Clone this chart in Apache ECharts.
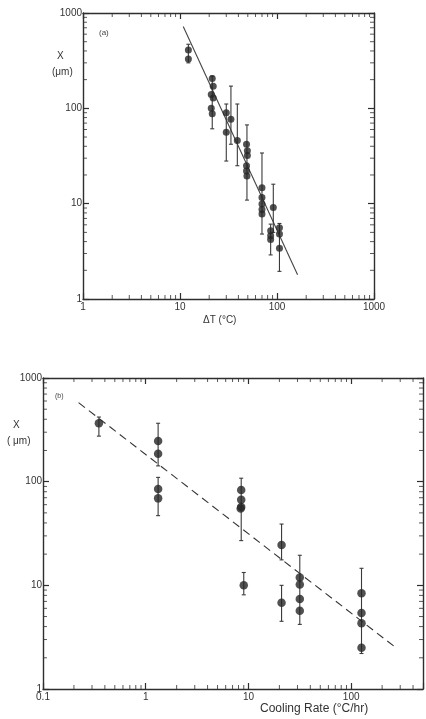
<!DOCTYPE html>
<html><head><meta charset="utf-8">
<script src="https://cdn.jsdelivr.net/npm/echarts@6/dist/echarts.min.js"></script>
<style>html,body{margin:0;padding:0;background:#fff}#c{width:426px;height:719px}</style>
</head><body><div id="c"></div>
<script>
// ---------- Panel (a): X (µm) vs ΔT (°C) ----------
const aDeltaT = [12.2, 12.2, 21.5, 22, 21, 22, 21, 21.5, 30, 30, 33.5, 39, 48.5, 49.5, 49.5, 48.5, 48.5, 49, 70, 70, 70, 70, 70, 91.6, 86, 86, 86, 106, 106, 106];
const aX      = [410, 330, 205, 170, 140, 128, 100, 88, 90, 56, 77, 46, 42, 36, 32, 25, 22, 19.5, 14.7, 11.6, 9.9, 8.7, 7.8, 9.1, 5.2, 4.6, 4.2, 5.6, 4.8, 3.4];
const aErrT   = [12.2, 21.5, 30, 33.5, 39, 49, 70, 91.6, 86, 106];
const aErrLo  = [300, 61, 28, 42, 25, 10.9, 4.8, 5.0, 2.9, 1.95];
const aErrHi  = [470, 218, 111, 171, 111, 67, 34, 16, 6.1, 6.2];
const aFitT   = [10.8, 163];
const aFitX   = [720, 1.8];

// ---------- Panel (b): X (µm) vs Cooling Rate (°C/hr) ----------
const bRate   = [0.35, 1.32, 1.32, 1.32, 1.32, 8.5, 8.5, 8.5, 8.4, 9.0, 21, 21, 31.6, 31.6, 31.6, 31.6, 126, 126, 126, 126];
const bX      = [366, 247, 186, 85, 69, 83, 67, 57, 55, 10, 24.5, 6.8, 11.9, 10.2, 7.4, 5.7, 8.4, 5.4, 4.3, 2.5];
const bErrR   = [0.35, 1.32, 1.32, 8.5, 9.0, 21, 21, 31.6, 126];
const bErrLo  = [275, 142, 47, 27, 8.1, 17.6, 4.5, 4.2, 2.2];
const bErrHi  = [420, 366, 110, 108, 13.3, 39, 10, 19.5, 14.6];
const bFitR   = [0.222, 273];
const bFitX   = [578, 2.5];

// tick labels
const aXTicks = [1, 10, 100, 1000];
const aYTicks = [1, 10, 100, 1000];
const bXTicks = [0.1, 1, 10, 100];
const bYTicks = [1, 10, 100, 1000];

const INK = '#262626', AX = '#2e2e2e';
const FONT = 'Liberation Sans';

function zip(a, b) { return a.map((v, i) => [v, b[i]]); }
function zip3(a, b, c) { return a.map((v, i) => [v, b[i], c[i]]); }

function isTick(list) {
  return v => { const n = +(+v).toPrecision(6); return list.indexOf(n) >= 0 ? String(n) : ''; };
}

function errRender(params, api) {
  const x = api.value(0), lo = api.value(1), hi = api.value(2);
  const p1 = api.coord([x, lo]), p2 = api.coord([x, hi]);
  const w = 2;
  const st = { stroke: '#3a3a3a', lineWidth: 1.1 };
  return { type: 'group', children: [
    { type: 'line', shape: { x1: p1[0], y1: p1[1], x2: p2[0], y2: p2[1] }, style: st },
    { type: 'line', shape: { x1: p1[0] - w, y1: p1[1], x2: p1[0] + w, y2: p1[1] }, style: st },
    { type: 'line', shape: { x1: p2[0] - w, y1: p2[1], x2: p2[0] + w, y2: p2[1] }, style: st }
  ]};
}

// minor tick decorations for log axes (2..9 within each decade)
function minorVals(lo, hi) {
  const out = [];
  for (let d = Math.floor(Math.log10(lo)); d < Math.ceil(Math.log10(hi)); d++) {
    for (let k = 2; k <= 9; k++) { const v = k * Math.pow(10, d); if (v > lo && v < hi) out.push(+v.toPrecision(6)); }
  }
  return out;
}
function tickSeries(gi, xmin, xmax, ymin, ymax) {
  const xs = minorVals(xmin, xmax), ys = minorVals(ymin, ymax);
  const base = { type: 'scatter', xAxisIndex: gi * 2, yAxisIndex: gi * 2, symbol: 'rect', silent: true,
    clip: false, itemStyle: { color: AX }, z: 1, animation: false };
  return [
    Object.assign({}, base, { data: xs.map(v => [v, ymin]), symbolSize: [1, 4], symbolOffset: [0, -2] }),
    Object.assign({}, base, { data: xs.map(v => [v, ymax]), symbolSize: [1, 4], symbolOffset: [0, 2] }),
    Object.assign({}, base, { data: ys.map(v => [xmin, v]), symbolSize: [4, 1], symbolOffset: [2, 0] }),
    Object.assign({}, base, { data: ys.map(v => [xmax, v]), symbolSize: [4, 1], symbolOffset: [-2, 0] })
  ];
}

function xAx(gi, min, max, ticks, pos, show) {
  return { type: 'log', logBase: 10, gridIndex: gi, min, max, position: pos,
    axisLine: { show: true, onZero: false, lineStyle: { color: AX, width: 1.4 } },
    axisTick: { show: true, inside: true, length: 6, lineStyle: { color: AX, width: 1.2 } },
    axisLabel: { show, color: '#333', fontSize: 10, fontFamily: FONT, margin: 3, formatter: isTick(ticks),
      showMinLabel: true, showMaxLabel: true },
    splitLine: { show: false }, minorTick: { show: false } };
}
function yAx(gi, min, max, ticks, pos, show) {
  return { type: 'log', logBase: 10, gridIndex: gi, min, max, position: pos,
    axisLine: { show: true, onZero: false, lineStyle: { color: AX, width: 1.4 } },
    axisTick: { show: true, inside: true, length: 6, lineStyle: { color: AX, width: 1.2 } },
    axisLabel: { show, color: '#333', fontSize: 10, fontFamily: FONT, margin: 1, formatter: isTick(ticks),
      showMinLabel: true, showMaxLabel: true },
    splitLine: { show: false }, minorTick: { show: false } };
}

const chart = echarts.init(document.getElementById('c'), null, { renderer: 'canvas' });
chart.setOption({
  backgroundColor: '#fff',
  animation: false,
  grid: [
    { left: 83, top: 13, width: 291, height: 286 },
    { left: 43, top: 378, width: 381, height: 311 }
  ],
  xAxis: [
    xAx(0, 1, 1000, aXTicks, 'bottom', true),
    xAx(0, 1, 1000, aXTicks, 'top', false),
    xAx(1, 0.1, 500, bXTicks, 'bottom', true),
    xAx(1, 0.1, 500, bXTicks, 'top', false)
  ],
  yAxis: [
    yAx(0, 1, 1000, aYTicks, 'left', true),
    yAx(0, 1, 1000, aYTicks, 'right', false),
    yAx(1, 1, 1000, bYTicks, 'left', true),
    yAx(1, 1, 1000, bYTicks, 'right', false)
  ],
  series: [
    { type: 'line', xAxisIndex: 0, yAxisIndex: 0, data: zip(aFitT, aFitX), symbol: 'none',
      lineStyle: { color: '#444', width: 1.1 }, z: 2 },
    { type: 'custom', xAxisIndex: 0, yAxisIndex: 0, renderItem: errRender, data: zip3(aErrT, aErrLo, aErrHi),
      encode: { x: 0, y: [1, 2] }, z: 3 },
    { type: 'scatter', xAxisIndex: 0, yAxisIndex: 0, data: zip(aDeltaT, aX), symbol: 'circle', symbolSize: 7,
      itemStyle: { color: INK }, z: 4 },

    { type: 'line', xAxisIndex: 2, yAxisIndex: 2, data: zip(bFitR, bFitX), symbol: 'none',
      lineStyle: { color: '#333', width: 1.1, type: [8, 5] }, z: 2 },
    { type: 'custom', xAxisIndex: 2, yAxisIndex: 2, renderItem: errRender, data: zip3(bErrR, bErrLo, bErrHi),
      encode: { x: 0, y: [1, 2] }, z: 3 },
    { type: 'scatter', xAxisIndex: 2, yAxisIndex: 2, data: zip(bRate, bX), symbol: 'circle', symbolSize: 8.5,
      itemStyle: { color: INK }, z: 4 }
  ].concat(tickSeries(0, 1, 1000, 1, 1000), tickSeries(1, 0.1, 500, 1, 1000)),
  graphic: [
    { type: 'text', left: 99, top: 29, style: { text: '(a)', fontSize: 8, fontFamily: FONT, fill: '#444' } },
    { type: 'text', left: 57, top: 51, style: { text: 'X', fontSize: 10, fontFamily: FONT, fill: '#333' } },
    { type: 'text', left: 52, top: 67, style: { text: '(μm)', fontSize: 10, fontFamily: FONT, fill: '#333' } },
    { type: 'text', left: 203, top: 315, style: { text: 'ΔT (°C)', fontSize: 10, fontFamily: FONT, fill: '#333' } },

    { type: 'text', left: 55, top: 393, style: { text: '(b)', fontSize: 7, fontFamily: FONT, fill: '#444' } },
    { type: 'text', left: 13, top: 420, style: { text: 'X', fontSize: 10, fontFamily: FONT, fill: '#333' } },
    { type: 'text', left: 7, top: 436, style: { text: '( μm)', fontSize: 10, fontFamily: FONT, fill: '#333' } },
    { type: 'text', left: 260, top: 703, style: { text: 'Cooling Rate (°C/hr)', fontSize: 12, fontFamily: FONT, fill: '#333' } }
  ]
});
</script>
</body></html>
